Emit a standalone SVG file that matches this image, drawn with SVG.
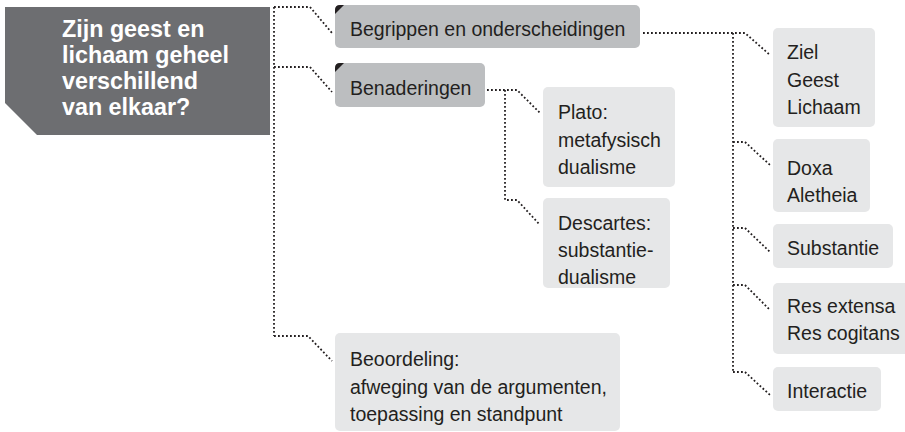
<svg xmlns="http://www.w3.org/2000/svg" width="905" height="432" viewBox="0 0 905 432">
<style>
.t{font-family:"Liberation Sans",Arial,sans-serif;font-size:19.5px;fill:#231f20}
.title{font-family:"Liberation Sans",Arial,sans-serif;font-size:23.3px;font-weight:bold;fill:#ffffff}
.mid{fill:#bcbec0}
.light{fill:#e6e7e8}
.conn{fill:none;stroke:#231f20;stroke-width:1.8;stroke-dasharray:1.8 2.2}
</style>
<rect width="905" height="432" fill="#ffffff"/>
<g id="connectors">
<path class="conn" d="M274,7 V336"/>
<path class="conn" d="M274,7 H310 L332,33"/>
<path class="conn" d="M274,67 H310 L332,92"/>
<path class="conn" d="M274,336 H308 L332,361"/>
<path class="conn" d="M643,33 H745 L770,55"/>
<path class="conn" d="M733,33 V372"/>
<path class="conn" d="M733,142 H745 L770,165"/>
<path class="conn" d="M733,228 H745 L770,252"/>
<path class="conn" d="M733,285 H745 L770,310"/>
<path class="conn" d="M733,372 H745 L770,395"/>
<path class="conn" d="M487,90 H517 L540,113"/>
<path class="conn" d="M505,90 V200 H517 L540,225"/>
</g>
<g id="title">
<polygon points="5,7 270,7 270,135 37,135 5,103" fill="#6d6e71"/>
<text class="title" x="62" y="37">Zijn geest en</text>
<text class="title" x="62" y="63">lichaam geheel</text>
<text class="title" x="62" y="89">verschillend</text>
<text class="title" x="62" y="115">van elkaar?</text>
</g>
<g id="begrippen">
<rect class="mid" x="335" y="5" width="305" height="43" rx="5"/>
<path d="M335,14 V10 Q335,5 340,5 H344 Z" fill="#231f20"/>
<text class="t" x="350" y="36">Begrippen en onderscheidingen</text>
</g>
<g id="benaderingen">
<rect class="mid" x="335" y="63" width="150" height="44" rx="5"/>
<path d="M335,72 V68 Q335,63 340,63 H344 Z" fill="#231f20"/>
<text class="t" x="350" y="95">Benaderingen</text>
</g>
<g id="plato">
<rect class="light" x="543" y="87" width="132" height="100" rx="5"/>
<text class="t" x="558" y="119">Plato:</text>
<text class="t" x="558" y="147">metafysisch</text>
<text class="t" x="558" y="174">dualisme</text>
</g>
<g id="descartes">
<rect class="light" x="543" y="198" width="127" height="90" rx="5"/>
<text class="t" x="558" y="230">Descartes:</text>
<text class="t" x="558" y="257">substantie-</text>
<text class="t" x="558" y="284">dualisme</text>
</g>
<g id="beoordeling">
<rect class="light" x="335" y="333" width="285" height="98" rx="5"/>
<text class="t" x="350" y="366">Beoordeling:</text>
<text class="t" x="350" y="394">afweging van de argumenten,</text>
<text class="t" x="350" y="421">toepassing en standpunt</text>
</g>
<g id="ziel">
<rect class="light" x="773" y="28" width="102" height="99" rx="5"/>
<text class="t" x="787" y="59">Ziel</text>
<text class="t" x="787" y="87">Geest</text>
<text class="t" x="787" y="114">Lichaam</text>
</g>
<g id="doxa">
<rect class="light" x="773" y="139" width="97" height="73" rx="5"/>
<text class="t" x="787" y="175">Doxa</text>
<text class="t" x="787" y="202">Aletheia</text>
</g>
<g id="substantie">
<rect class="light" x="773" y="224" width="120" height="44" rx="5"/>
<text class="t" x="787" y="255">Substantie</text>
</g>
<g id="res">
<rect class="light" x="773" y="283" width="137" height="71" rx="5"/>
<text class="t" x="787" y="313">Res extensa</text>
<text class="t" x="787" y="340">Res cogitans</text>
</g>
<g id="interactie">
<rect class="light" x="773" y="367" width="108" height="44" rx="5"/>
<text class="t" x="787" y="398">Interactie</text>
</g>
</svg>
